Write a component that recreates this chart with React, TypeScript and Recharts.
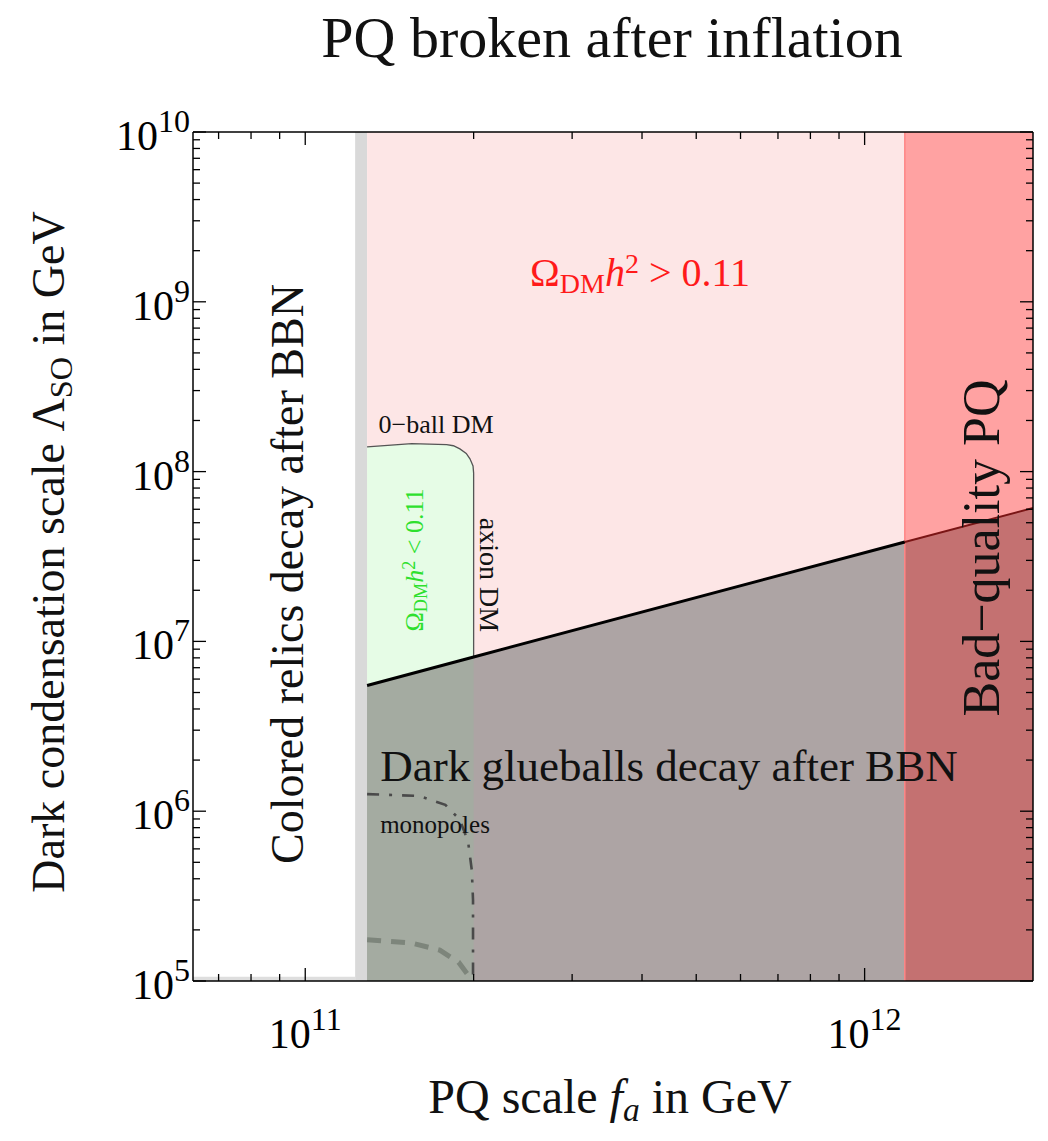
import React from "react";
import { ComposedChart, XAxis, YAxis, Area, Line } from "recharts";

const FONT = '"Liberation Serif", "Times New Roman", serif';

// axis ranges (GeV)
const faDomain = [6.3e10, 2.0e12];
const lambdaDomain = [1e5, 1e10];

// vertical bands, PQ scale f_a in GeV
const relicFa = [6.3e10, 1.228e11];
const relicFloorLambda = 1.06e5;
const relicBandFa = [1.228e11, 1.29e11];
const overabundantFa = [1.29e11, 1.18e12];
const badQualityEdgeFa = [1.18e12, 1.18e12];

// glueball boundary (thick black line)
const boundaryFa = [1.29e11, 2.0e11, 1.18e12, 2.0e12];
const boundaryLambda = [5.5e6, 8.1e6, 3.85e7, 6.1e7];

// Q-ball DM / axion DM region (green, rounded corner)
const qballFa = [1.29e11, 1.55e11, 1.79e11, 1.84e11, 1.89e11, 1.94e11, 1.97e11, 1.995e11, 2.0e11];
const qballLambda = [1.40e8, 1.46e8, 1.44e8, 1.42e8, 1.36e8, 1.28e8, 1.19e8, 1.08e8, 9.8e7];

// monopole curves
const monopoleFa = [1.29e11, 1.6e11, 1.78e11, 1.89e11, 1.955e11, 1.985e11, 1.995e11, 1.995e11];
const monopoleLambda = [1.26e6, 1.23e6, 1.09e6, 8.9e5, 6.6e5, 4.5e5, 3.0e5, 1.0e5];
const monopole2Fa = [1.29e11, 1.54e11, 1.74e11, 1.88e11, 1.955e11, 1.98e11];
const monopole2Lambda = [1.75e5, 1.68e5, 1.52e5, 1.29e5, 1.085e5, 1.0e5];

// frame ticks
const xTicks = [7e10, 8e10, 9e10, 1e11, 2e11, 3e11, 4e11, 5e11, 6e11, 7e11, 8e11, 9e11, 1e12];
const yDecades = [1e5, 1e6, 1e7, 1e8, 1e9];
const yMantissas = [1, 2, 3, 4, 5, 6, 7, 8, 9];
const yTicks = [...yDecades.flatMap((d) => yMantissas.map((m) => m * d)), 1e10];

const lo = lambdaDomain[0];
const hi = lambdaDomain[1];

const band = (fa: number[], top = hi) => fa.map((f) => ({ fa: f, r: [lo, top] }));
const below = (from: number, to: number) =>
  boundaryFa.slice(from, to + 1).map((f, i) => ({ fa: f, r: [lo, boundaryLambda[from + i]] }));
const above = (from: number, to: number) =>
  boundaryFa.slice(from, to + 1).map((f, i) => ({ fa: f, r: [boundaryLambda[from + i], hi] }));

const qballArea = qballFa.map((f, i) => ({ fa: f, r: [lo, qballLambda[i]] }));
const qballEdge = [
  ...qballFa.map((f, i) => ({ fa: f, v: qballLambda[i] })),
  { fa: boundaryFa[1], v: boundaryLambda[1] },
];
const toPts = (fa: number[], l: number[]) => fa.map((f, i) => ({ fa: f, v: l[i] }));

const isMajor = (v: number) => {
  const e = Math.round(Math.log10(v));
  return Math.abs(v - Math.pow(10, e)) < 1e-6 * v;
};

function Pow({ v, x, y, anchor }: any) {
  const e = Math.round(Math.log10(v));
  return (
    <text x={x} y={y} textAnchor={anchor} fontFamily={FONT} fontSize={42} fill="#000">
      10
      <tspan dy={-18} fontSize={32}>{e}</tspan>
    </text>
  );
}

function BottomTick({ x, y, payload }: any) {
  const m = isMajor(payload.value);
  return (
    <g>
      <line x1={x} x2={x} y1={y} y2={y - (m ? 13 : 7)} stroke="#000" strokeWidth={1.3} />
      {m && <Pow v={payload.value} x={x} y={y + 67} anchor="middle" />}
    </g>
  );
}

function TopTick({ x, y, payload }: any) {
  const m = isMajor(payload.value);
  return <line x1={x} x2={x} y1={y} y2={y + (m ? 13 : 7)} stroke="#000" strokeWidth={1.3} />;
}

function LeftTick({ x, y, payload }: any) {
  const m = isMajor(payload.value);
  return (
    <g>
      <line x1={x} x2={x + (m ? 13 : 7)} y1={y} y2={y} stroke="#000" strokeWidth={1.3} />
      {m && <Pow v={payload.value} x={x - 3} y={y + 18} anchor="end" />}
    </g>
  );
}

function RightTick({ x, y, payload }: any) {
  const m = isMajor(payload.value);
  return <line x1={x} x2={x - (m ? 13 : 7)} y1={y} y2={y} stroke="#000" strokeWidth={1.3} />;
}

function Txt({ x, y, size, rot = 0, color = "#111", children }: any) {
  return (
    <div
      style={{
        position: "absolute",
        left: x,
        top: y,
        transform: `translate(-50%, -50%) rotate(${rot}deg)`,
        fontFamily: FONT,
        fontSize: size,
        color,
        whiteSpace: "nowrap",
        lineHeight: 1,
      }}
    >
      {children}
    </div>
  );
}

const sub = { fontSize: "0.7em", verticalAlign: "-0.25em" };
const sup = { fontSize: "0.7em", verticalAlign: "0.45em" };

export default function App() {
  const areaCommon = {
    xAxisId: "b",
    yAxisId: "l",
    dataKey: "r",
    type: "linear" as const,
    stroke: "none",
    fillOpacity: 1,
    isAnimationActive: false,
    dot: false,
    activeDot: false,
  };
  const lineCommon = {
    xAxisId: "b",
    yAxisId: "l",
    dataKey: "v",
    type: "linear" as const,
    isAnimationActive: false,
    dot: false,
    activeDot: false,
  };
  return (
    <div style={{ position: "absolute", left: 0, top: 0, width: 1048, height: 1141, background: "#fff" }}>
      <ComposedChart width={1048} height={1141} margin={{ top: 131, right: 14, bottom: 100, left: 20 }}>
        <XAxis
          xAxisId="b"
          type="number"
          dataKey="fa"
          scale="log"
          domain={faDomain}
          allowDataOverflow
          ticks={xTicks}
          interval={0}
          height={60}
          tickSize={0}
          tickMargin={0}
          tick={<BottomTick />}
          axisLine={{ stroke: "#000", strokeWidth: 1.5 }}
        />
        <XAxis
          xAxisId="t"
          orientation="top"
          type="number"
          dataKey="fa"
          scale="log"
          domain={faDomain}
          allowDataOverflow
          ticks={xTicks}
          interval={0}
          height={1}
          tickSize={0}
          tickMargin={0}
          tick={<TopTick />}
          axisLine={{ stroke: "#000", strokeWidth: 1.5 }}
        />
        <YAxis
          yAxisId="l"
          type="number"
          scale="log"
          domain={lambdaDomain}
          allowDataOverflow
          ticks={yTicks}
          interval={0}
          width={173}
          tickSize={0}
          tickMargin={0}
          tick={<LeftTick />}
          axisLine={{ stroke: "#000", strokeWidth: 1.5 }}
        />
        <YAxis
          yAxisId="r"
          orientation="right"
          type="number"
          scale="log"
          domain={lambdaDomain}
          allowDataOverflow
          ticks={yTicks}
          interval={0}
          width={1}
          tickSize={0}
          tickMargin={0}
          tick={<RightTick />}
          axisLine={{ stroke: "#000", strokeWidth: 1.5 }}
        />

        {/* filled regions, painted in order */}
        <Area {...areaCommon} data={band(relicFa, relicFloorLambda)} fill="#dedede" />
        <Area {...areaCommon} data={band(relicBandFa)} fill="#d9d9d9" />
        <Area {...areaCommon} data={band(overabundantFa)} fill="#fde6e6" />
        <Area {...areaCommon} data={qballArea} fill="#e6fce6" />
        <Area {...areaCommon} data={below(0, 2)} fill="#ada4a4" />
        <Area {...areaCommon} data={below(0, 1)} fill="#a4aba1" />
        <Area {...areaCommon} data={above(2, 3)} fill="#ffa2a2" />
        <Area {...areaCommon} data={below(2, 3)} fill="#c47171" />

        {/* boundaries */}
        <Line {...lineCommon} data={toPts(badQualityEdgeFa, lambdaDomain)} stroke="#ff8585" strokeWidth={1.5} />
        <Line {...lineCommon} data={qballEdge} stroke="#555" strokeWidth={1.3} />
        <Line {...lineCommon} data={toPts(monopole2Fa, monopole2Lambda)} stroke="#7d857b" strokeWidth={5} strokeDasharray="14 10" />
        <Line {...lineCommon} data={toPts(monopoleFa, monopoleLambda)} stroke="#4a4a4a" strokeWidth={2.6} strokeDasharray="12 10 3 10" />
        <Line {...lineCommon} data={toPts(boundaryFa.slice(0, 3), boundaryLambda.slice(0, 3))} stroke="#000" strokeWidth={3} />
        <Line {...lineCommon} data={toPts(boundaryFa.slice(2), boundaryLambda.slice(2))} stroke="#7a1515" strokeWidth={2} />
      </ComposedChart>

      <Txt x={612} y={38} size={58}>PQ broken after inflation</Txt>
      <Txt x={52} y={552} size={46} rot={-90}>
        Dark condensation scale Λ<span style={sub}>SO</span> in GeV
      </Txt>
      <Txt x={610} y={1100} size={48}>
        PQ scale <i>f</i>
        <span style={{ ...sub, fontStyle: "italic" }}>a</span> in GeV
      </Txt>

      <Txt x={288} y={574} size={46} rot={-90}>Colored relics decay after BBN</Txt>
      <Txt x={640} y={274} size={40} color="#ff1a1a">
        Ω<span style={sub}>DM</span>
        <i>h</i>
        <span style={sup}>2</span> &gt; 0.11
      </Txt>
      <Txt x={436} y={425} size={26}>0−ball DM</Txt>
      <Txt x={415} y={560} size={26} rot={-90} color="#2ee02e">
        Ω<span style={sub}>DM</span>
        <i>h</i>
        <span style={sup}>2</span> &lt; 0.11
      </Txt>
      <Txt x={489} y={575} size={28} rot={90}>axion DM</Txt>
      <Txt x={669} y={766} size={45}>Dark glueballs decay after BBN</Txt>
      <Txt x={435} y={824} size={25}>monopoles</Txt>
      <Txt x={982} y={548} size={52} rot={-90}>Bad−quality PQ</Txt>
    </div>
  );
}
